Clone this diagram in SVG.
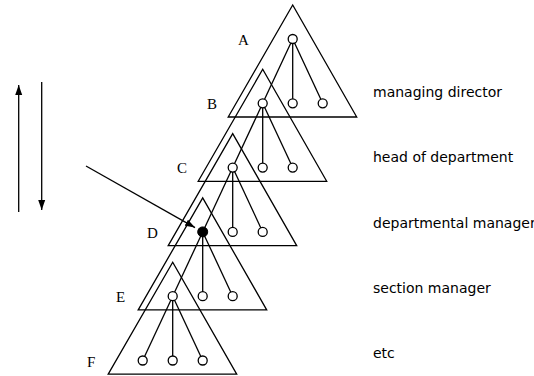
<svg xmlns="http://www.w3.org/2000/svg" width="534" height="376" viewBox="0 0 534 376">
<style>
.tri{fill:none;stroke:#000;stroke-width:1.3;stroke-linejoin:miter}
.edge{stroke:#000;stroke-width:1.3}
.node{fill:#fff;stroke:#000;stroke-width:1.3}
.sel{fill:#000;stroke:#000;stroke-width:1}
.lvl{font-family:"Liberation Serif",serif;font-size:15px;fill:#000}
.role{font-family:"DejaVu Sans",sans-serif;font-size:14px;fill:#000}
.arr{stroke:#000;stroke-width:1.3;fill:none}
</style>
<defs>
<marker id="ah" markerUnits="userSpaceOnUse" markerWidth="12" markerHeight="8" refX="10" refY="4" orient="auto">
<path d="M0,0.5 L10,4 L0,7.5 Z" fill="#000"/>
</marker>
</defs>
<g id="triangles">
<polygon class="tri" points="292.7,5 228.2,117 356.7,117"/>
<polygon class="tri" points="262.7,69.3 198.2,181.3 326.7,181.3"/>
<polygon class="tri" points="232.7,133.6 168.2,245.6 296.7,245.6"/>
<polygon class="tri" points="202.7,197.9 138.2,309.9 266.7,309.9"/>
<polygon class="tri" points="172.7,262.2 108.2,374.2 236.7,374.2"/>
</g>
<g id="connectors">
<line class="edge" x1="292.7" y1="39" x2="262.7" y2="103.3"/>
<line class="edge" x1="292.7" y1="39" x2="292.7" y2="103.3"/>
<line class="edge" x1="292.7" y1="39" x2="322.7" y2="103.3"/>
<line class="edge" x1="262.7" y1="103.3" x2="232.7" y2="167.6"/>
<line class="edge" x1="262.7" y1="103.3" x2="262.7" y2="167.6"/>
<line class="edge" x1="262.7" y1="103.3" x2="292.7" y2="167.6"/>
<line class="edge" x1="232.7" y1="167.6" x2="202.7" y2="231.9"/>
<line class="edge" x1="232.7" y1="167.6" x2="232.7" y2="231.9"/>
<line class="edge" x1="232.7" y1="167.6" x2="262.7" y2="231.9"/>
<line class="edge" x1="202.7" y1="231.9" x2="172.7" y2="296.2"/>
<line class="edge" x1="202.7" y1="231.9" x2="202.7" y2="296.2"/>
<line class="edge" x1="202.7" y1="231.9" x2="232.7" y2="296.2"/>
<line class="edge" x1="172.7" y1="296.2" x2="142.7" y2="360.5"/>
<line class="edge" x1="172.7" y1="296.2" x2="172.7" y2="360.5"/>
<line class="edge" x1="172.7" y1="296.2" x2="202.7" y2="360.5"/>
<line class="arr" x1="18.7" y1="212" x2="18.7" y2="85" marker-end="url(#ah)"/>
<line class="arr" x1="41.7" y1="82" x2="41.7" y2="210" marker-end="url(#ah)"/>
<line class="arr" x1="86" y1="166" x2="195" y2="227.6" marker-end="url(#ah)"/>
</g>
<g id="level-A">
<circle class="node" cx="292.7" cy="39" r="4.5"/>
<text class="lvl" x="238" y="45">A</text>
<text class="role" x="373" y="97">managing director</text>
</g>
<g id="level-B">
<circle class="node" cx="262.7" cy="103.3" r="4.5"/>
<circle class="node" cx="292.7" cy="103.3" r="4.5"/>
<circle class="node" cx="322.7" cy="103.3" r="4.5"/>
<text class="lvl" x="207" y="108.5">B</text>
<text class="role" x="373" y="162">head of department</text>
</g>
<g id="level-C">
<circle class="node" cx="232.7" cy="167.6" r="4.5"/>
<circle class="node" cx="262.7" cy="167.6" r="4.5"/>
<circle class="node" cx="292.7" cy="167.6" r="4.5"/>
<text class="lvl" x="177" y="172.5">C</text>
<text class="role" x="373" y="227.5">departmental manager</text>
</g>
<g id="level-D">
<circle class="sel" cx="202.7" cy="231.9" r="5"/>
<circle class="node" cx="232.7" cy="231.9" r="4.5"/>
<circle class="node" cx="262.7" cy="231.9" r="4.5"/>
<text class="lvl" x="147" y="238">D</text>
<text class="role" x="373" y="293">section manager</text>
</g>
<g id="level-E">
<circle class="node" cx="172.7" cy="296.2" r="4.5"/>
<circle class="node" cx="202.7" cy="296.2" r="4.5"/>
<circle class="node" cx="232.7" cy="296.2" r="4.5"/>
<text class="lvl" x="116" y="301.5">E</text>
<text class="role" x="373" y="358">etc</text>
</g>
<g id="level-F">
<circle class="node" cx="142.7" cy="360.5" r="4.5"/>
<circle class="node" cx="172.7" cy="360.5" r="4.5"/>
<circle class="node" cx="202.7" cy="360.5" r="4.5"/>
<text class="lvl" x="87" y="367">F</text>
</g>
</svg>
